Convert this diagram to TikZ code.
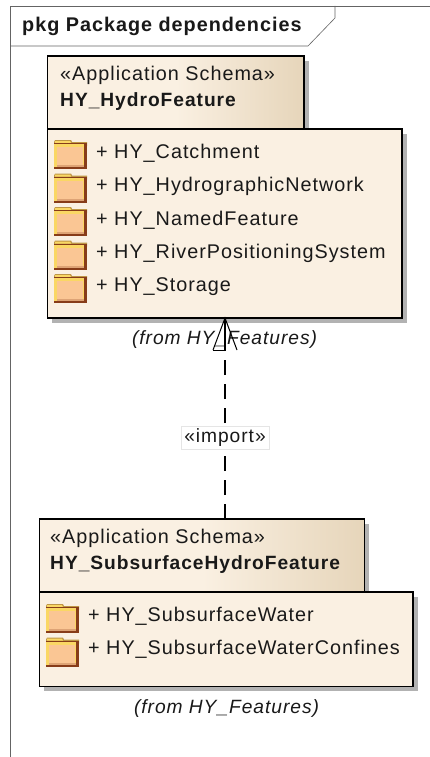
\documentclass[tikz,border=0pt]{standalone}
\usepackage{fontspec}
\setmainfont[LetterSpace=5]{Liberation Sans}
\usetikzlibrary{positioning}
\definecolor{pkgfill}{RGB}{250,240,226}
\definecolor{pkgdark}{RGB}{230,213,186}
\definecolor{pkgshadow}{RGB}{178,178,178}
\definecolor{framegray}{RGB}{100,100,100}
\definecolor{foldertop}{RGB}{250,215,100}
\definecolor{folderbody}{RGB}{250,198,148}
\definecolor{folderedge}{RGB}{135,60,25}
\definecolor{foldertab}{RGB}{190,150,70}
\tikzset{
	x=1pt, y=-1pt,
	packagetext/.style={font=\fontsize{19.8}{22}\selectfont, anchor=west, inner sep=0pt, text=black!90},
	boldtext/.style={packagetext, font=\fontsize{19.2}{22}\selectfont\bfseries},
	fromtext/.style={font=\fontsize{19.2}{22}\selectfont\itshape, inner sep=0pt, text=black!90},
	folder/.pic={
		\fill[foldertab] (0,2) -- (1,0) -- (17,0) -- (18,2) -- (33,2) -- (33,6) -- (0,6) -- cycle;
		\fill[foldertop] (1,1) -- (16,1) -- (17,3) -- (1,3) -- cycle;
		\fill[folderedge] (0,3) rectangle (33,29);
		\fill[foldertop] (0,4) rectangle (30,27);
		\fill[folderbody] (3,7) rectangle (29,25);
		\fill[folderbody!75!folderedge] (3,25) rectangle (30,27);
	},
}
\begin{document}
\begin{tikzpicture}
	\useasboundingbox (0,0) rectangle (430,757);
	\fill[white] (0,0) rectangle (430,757);

	% frame and tab
	\draw[framegray, line width=0.8pt] (10,757) -- (10,6) -- (430,6);
	\draw[framegray, line width=0.6pt] (10,46) -- (308,46) -- (335,18) -- (335,6);
	\node[boldtext, font=\fontsize{19.8}{22}\selectfont\bfseries] (framelabel) at (22,26) {pkg Package dependencies};

	% upper package
	\fill[pkgshadow] (52,61) rectangle (309,134);
	\fill[pkgshadow] (52,134) rectangle (407,323);
	\draw[left color=pkgfill, right color=pkgdark, middle color=pkgfill, line width=1.3pt] (47.5,56) rectangle (304,129);
	\draw[fill=pkgfill, line width=1.3pt] (47.5,129) rectangle (402,318);
	\node[packagetext] (upperstereo) at (60,75) {«Application Schema»};
	\node[boldtext] (uppername) at (60,102) {HY\_HydroFeature};
	\foreach \y / \name in {140/Catchment, 173.5/HydrographicNetwork, 207/NamedFeature, 240.5/RiverPositioningSystem, 274/Storage}
	{
		\pic at (54,\y) {folder};
		\node[packagetext] at (96,\y+13) {+ HY\_\name};
	};
	\node[fromtext] (upperfrom) at (224.5,340) {(from HY\_Features)};

	% lower package
	\fill[pkgshadow] (44,524) rectangle (369,597);
	\fill[pkgshadow] (44,597) rectangle (418,691);
	\draw[left color=pkgfill, right color=pkgdark, middle color=pkgfill, line width=1.3pt] (39.5,519) rectangle (364.5,592);
	\draw[fill=pkgfill, line width=1.3pt] (39.5,592) rectangle (413,686.5);
	\node[packagetext] (lowerstereo) at (50,538) {«Application Schema»};
	\node[boldtext] (lowername) at (50,565) {HY\_SubsurfaceHydroFeature};
	\foreach \y / \name in {604/SubsurfaceWater, 637.5/SubsurfaceWaterConfines}
	{
		\pic at (46,\y) {folder};
		\node[packagetext] at (88,\y+12) {+ HY\_\name};
	};
	\node[fromtext] (lowerfrom) at (226.5,709) {(from HY\_Features)};

	% import dependency
	\coordinate (lowertop) at (225,519);
	\coordinate (uppertip) at (225,318);
	\coordinate (arrowbase) at (225,350);
	\draw[line width=1.3pt, dash pattern=on 15pt off 9pt] (lowertop) -- (arrowbase);
	\draw[line width=1pt] (213,350) -- (uppertip) -- (237,350);
	\draw[line width=1pt] (213,350) -- (arrowbase);
	\draw[line width=1.3pt] (arrowbase) -- (uppertip);
	\node[draw=black!10, fill=white, font=\fontsize{19.2}{22}\selectfont, text=black!90, inner sep=0pt, minimum width=88pt, minimum height=23pt] (importlabel) at (225,438) {«import»};
\end{tikzpicture}
\end{document}
